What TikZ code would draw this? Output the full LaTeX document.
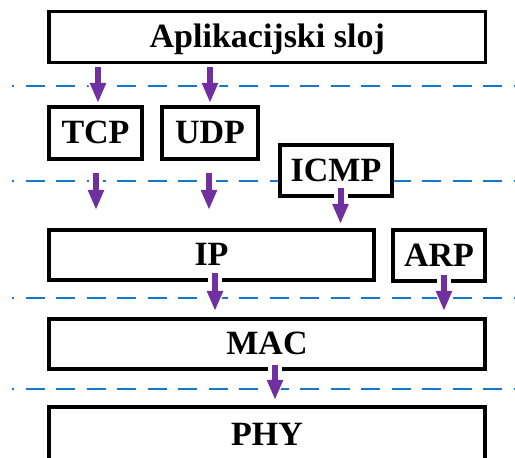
\documentclass[tikz,border=0pt]{standalone}
\usepackage{fontspec}
\setmainfont{Liberation Serif}
\usetikzlibrary{arrows.meta,calc}
\definecolor{arrpurple}{RGB}{112,48,160}
\definecolor{dashblue}{RGB}{20,120,205}
\tikzset{
  layerbox/.style={draw=black, line width=3.2pt, fill=white, inner sep=0pt, outer sep=0pt,
    font=\bfseries\fontsize{34}{36}\selectfont, text height=21.5pt, text depth=0pt},
  sepline/.style={draw=dashblue, line width=2.6pt, dash pattern=on 19pt off 11.5pt, dash phase=17pt},
  arr/.style={line width=6pt, draw=arrpurple, -{Triangle[length=20pt,width=15pt]},
    preaction={draw=white, line width=14pt, -{Triangle[length=22pt,width=22pt]}}}
}
\begin{document}
\begin{tikzpicture}[x=1pt,y=1pt]
\useasboundingbox (0,0) rectangle (515,458);
% separator lines
\draw[sepline] (12,372) -- (515,372);
\draw[sepline] (12,277) -- (515,277);
\draw[sepline] (12,160) -- (515,160);
\draw[sepline] (12,69) -- (515,69);
% boxes
\node[layerbox, minimum width=436.5pt, minimum height=51pt] (app) at (267.25,421) {Aplikacijski sloj};
\node[layerbox, minimum width=93pt, minimum height=52pt] (tcp) at (95.5,325) {TCP};
\node[layerbox, minimum width=96pt, minimum height=52pt] (udp) at (210,325) {UDP};
\node[layerbox, minimum width=112pt, minimum height=51pt] (icmp) at (336,287.5) {ICMP};
\node[layerbox, minimum width=325pt, minimum height=50pt] (ip) at (211.5,203) {IP};
\node[layerbox, minimum width=92pt, minimum height=51pt] (arp) at (439,202.5) {ARP};
\node[layerbox, minimum width=436pt, minimum height=50pt] (mac) at (267,114) {MAC};
\node[layerbox, minimum width=436pt, minimum height=55pt] (phy) at (267,23.5) {PHY};
% arrows
\draw[arr, shorten <=4.5pt, shorten >=4pt] (app.south -| 98,0) -- (tcp.north -| 98,0);
\draw[arr, shorten <=4.5pt, shorten >=4pt] (app.south -| 210,0) -- (udp.north -| 210,0);
\draw[arr, shorten <=14pt, shorten >=20pt] (tcp.south -| 96,0) -- (ip.north -| 96,0);
\draw[arr, shorten <=14pt, shorten >=20pt] (udp.south -| 209,0) -- (ip.north -| 209,0);
\draw[arr, shorten <=-7.5pt, shorten >=6pt] (icmp.south -| 340.5,0) -- (ip.north -| 340.5,0);
\draw[arr, shorten <=-7pt, shorten >=8pt] (ip.south -| 215,0) -- (mac.north -| 215,0);
\draw[arr, shorten <=-6pt, shorten >=8pt] (arp.south -| 444,0) -- (mac.north -| 444,0);
\draw[arr, shorten <=-4pt, shorten >=7pt] (mac.south -| 275,0) -- (phy.north -| 275,0);
\end{tikzpicture}
\end{document}
